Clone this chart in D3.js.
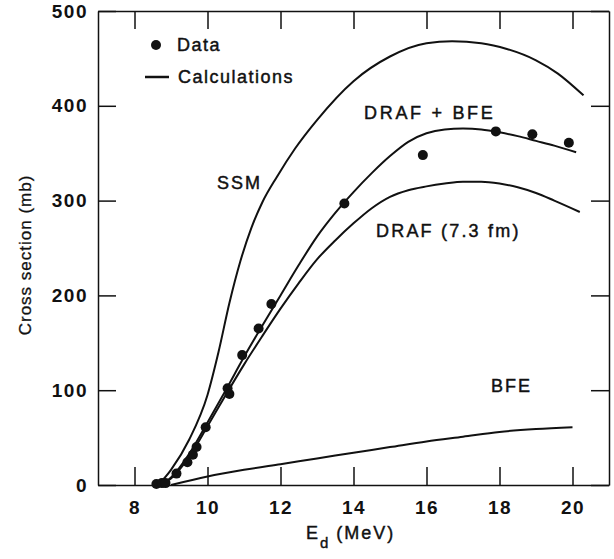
<!DOCTYPE html>
<meta charset="utf-8">
<style>
body { margin: 0; background: #fff; }
svg { font-family: "Liberation Sans", Arial, sans-serif; }
.axis text { font-size: 19px; font-weight: bold; letter-spacing: 1.5px; fill: #111; }
.axis line, .axis path { stroke: #111; stroke-width: 1.5px; }
.curve { fill: none; stroke: #111; stroke-width: 2px; }
.lbl { font-size: 18px; fill: #111; stroke: #111; stroke-width: 0.45px; }
</style>
<body>
<script src="https://d3js.org/d3.v7.min.js"></script>
<script>
// measured cross sections
var dataE  = [8.6, 8.75, 8.85, 9.15, 9.45, 9.6, 9.7, 9.95, 10.55, 10.6, 10.95, 11.4, 11.75, 13.75, 15.9, 17.9, 18.9, 19.9];
var dataXS = [1, 2, 2, 12, 24, 32, 40, 61, 102, 96, 137, 165, 191, 297, 348, 373, 370, 361];

// calculations
var ssmE  = [8.65, 9.0, 9.5, 10.0, 10.3, 10.6, 10.9, 11.2, 11.5, 11.9, 12.4, 13.0, 14.0, 15.0, 16.0, 16.7, 17.5, 18.2, 19.0, 19.6, 20.3];
var ssmXS = [0, 16, 48, 95, 140, 192, 236, 271, 298, 325, 355, 385, 426, 452, 466, 468, 466, 460, 448, 434, 411];

var drafBfeE  = [8.7, 9.0, 9.5, 10.0, 10.5, 11.0, 11.5, 12.0, 12.5, 13.0, 13.5, 14.0, 14.5, 15.0, 15.5, 16.0, 16.5, 17.0, 17.5, 18.0, 18.5, 19.0, 19.5, 20.1];
var drafBfeXS = [0, 8, 33, 66, 100, 135, 168, 200, 232, 262, 287, 309, 329, 347, 362, 371, 375, 376, 375, 372, 368, 363, 358, 351];

var drafE  = [8.7, 9.0, 9.5, 10.0, 10.5, 11.0, 11.5, 12.0, 12.5, 13.0, 13.5, 14.0, 14.5, 15.0, 15.5, 16.0, 16.5, 17.0, 17.5, 18.0, 18.5, 19.0, 19.5, 20.2];
var drafXS = [0, 7, 30, 62, 95, 127, 157, 186, 213, 238, 258, 276, 292, 304, 311, 315, 318, 320, 320, 318, 314, 308, 300, 288];

var bfeE  = [9.0, 10.0, 11.0, 12.0, 13.0, 14.0, 15.0, 16.0, 17.0, 18.0, 19.0, 20.0];
var bfeXS = [0, 9, 16, 22, 28, 34, 40, 46, 51, 56, 59, 61];

var xTicks = [8, 10, 12, 14, 16, 18, 20];
var yTicks = [0, 100, 200, 300, 400, 500];

var width = 614, height = 559;
var x = d3.scaleLinear().domain([7, 21]).range([98, 609]);
var y = d3.scaleLinear().domain([0, 500]).range([485, 11]);

var svg = d3.select("body").append("svg")
    .attr("width", width)
    .attr("height", height);

// axes, ticks pointing inward on all four sides
svg.append("g").attr("class", "axis")
    .attr("transform", "translate(0," + y(0) + ")")
    .call(d3.axisBottom(x).tickValues(xTicks).tickSizeInner(-18).tickSizeOuter(0).tickPadding(16));
svg.append("g").attr("class", "axis")
    .attr("transform", "translate(0," + y(500) + ")")
    .call(d3.axisTop(x).tickValues(xTicks).tickSizeInner(-18).tickSizeOuter(0).tickFormat(""));
svg.append("g").attr("class", "axis")
    .attr("transform", "translate(" + x(7) + ",0)")
    .call(d3.axisLeft(y).tickValues(yTicks).tickSizeInner(-18).tickSizeOuter(0).tickPadding(10));
svg.append("g").attr("class", "axis")
    .attr("transform", "translate(" + x(21) + ",0)")
    .call(d3.axisRight(y).tickValues(yTicks).tickSizeInner(-18).tickSizeOuter(0).tickFormat(""));

// axis titles
svg.append("text")
    .attr("transform", "translate(31,255) rotate(-90)")
    .attr("text-anchor", "middle")
    .style("font-size", "17px")
    .style("letter-spacing", "1px")
    .attr("fill", "#111").attr("stroke", "#111").attr("stroke-width", 0.3)
    .text("Cross section (mb)");

var xt = svg.append("text")
    .attr("x", 306).attr("y", 539)
    .style("font-size", "18px")
    .style("letter-spacing", "2px")
    .attr("fill", "#111").attr("stroke", "#111").attr("stroke-width", 0.4);
xt.append("tspan").text("E");
xt.append("tspan").attr("dy", 9).style("font-size", "15px").text("d");
xt.append("tspan").attr("dy", -9).attr("dx", 6).text("(MeV)");

// curves
var line = d3.line()
    .x(function(d) { return x(d[0]); })
    .y(function(d) { return y(d[1]); })
    .curve(d3.curveMonotoneX);

[[ssmE, ssmXS], [drafBfeE, drafBfeXS], [drafE, drafXS], [bfeE, bfeXS]].forEach(function(s) {
  svg.append("path")
      .attr("class", "curve")
      .attr("d", line(d3.zip(s[0], s[1])));
});

// data points
svg.selectAll(".pt")
    .data(d3.zip(dataE, dataXS))
  .enter().append("circle")
    .attr("class", "pt")
    .attr("cx", function(d) { return x(d[0]); })
    .attr("cy", function(d) { return y(d[1]); })
    .attr("r", 5)
    .attr("fill", "#111");

// legend
svg.append("circle").attr("cx", 156).attr("cy", 45).attr("r", 5).attr("fill", "#111");
svg.append("text").attr("class", "lbl").attr("x", 177).attr("y", 51)
    .style("letter-spacing", "1.5px").text("Data");
svg.append("line").attr("x1", 145).attr("x2", 169).attr("y1", 77).attr("y2", 77)
    .attr("stroke", "#111").attr("stroke-width", 2.5);
svg.append("text").attr("class", "lbl").attr("x", 178).attr("y", 83)
    .style("letter-spacing", "1.5px").text("Calculations");

// curve labels
var labels = [
  {t: "SSM", x: 217, y: 189, ls: 2},
  {t: "DRAF + BFE", x: 364, y: 119, ls: 2.7},
  {t: "DRAF (7.3 fm)", x: 376, y: 237, ls: 2.2},
  {t: "BFE", x: 491, y: 392, ls: 2}
];
labels.forEach(function(l) {
  svg.append("text").attr("class", "lbl")
      .attr("x", l.x).attr("y", l.y)
      .style("letter-spacing", l.ls + "px")
      .text(l.t);
});
</script>
</body>
